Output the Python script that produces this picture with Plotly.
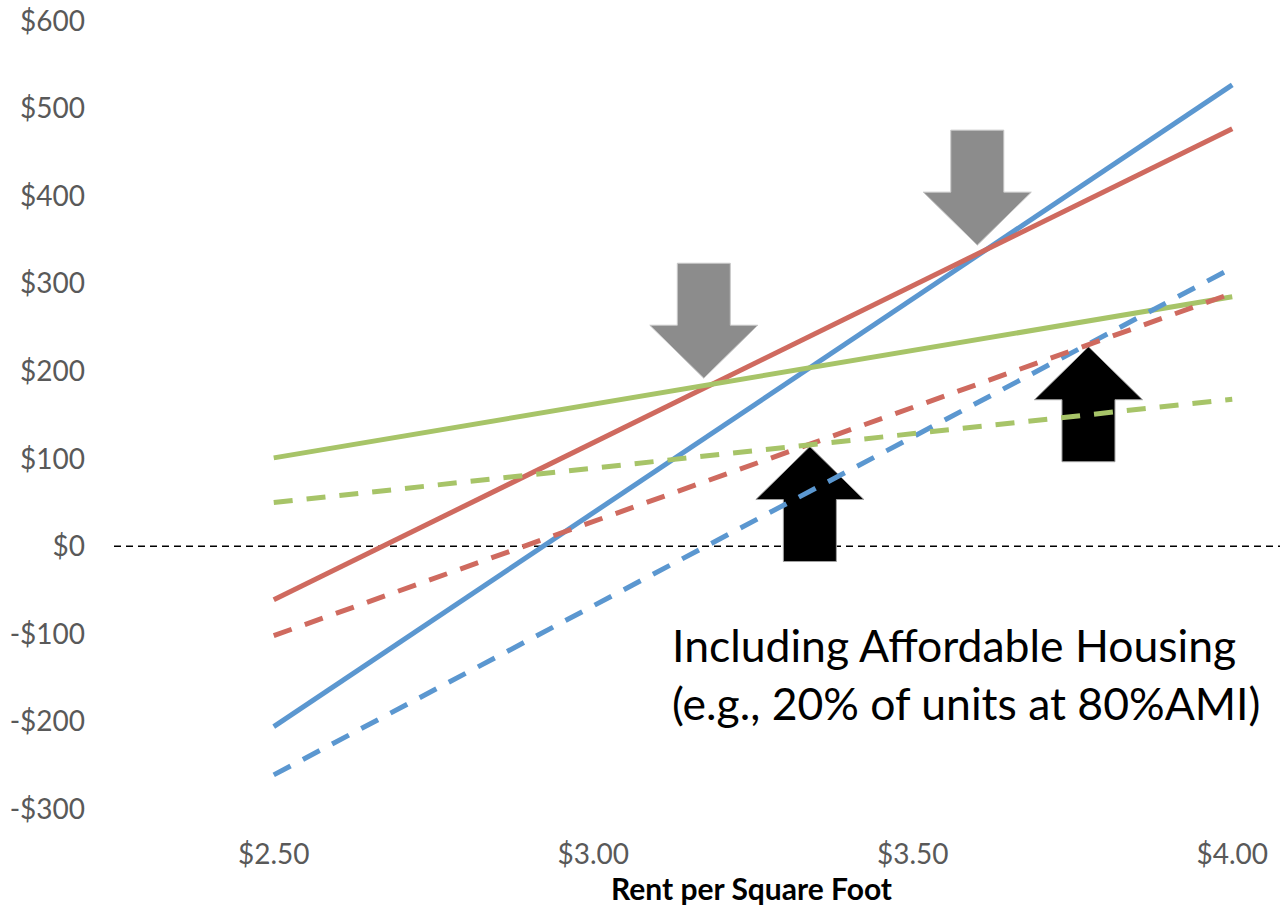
import plotly.graph_objects as go

# Rent per square foot (x) and residual land value per unit (y)
rent = [2.50, 3.00, 3.50, 4.00]

blue_solid = [-206, 38, 282, 527]
red_solid = [-61, 118, 297, 477]
green_solid = [101, 162, 223, 285]

blue_dashed = [-261, -68, 125, 318]
red_dashed = [-102, 28, 159, 289]
green_dashed = [50, 89, 128, 168]

y_ticks = [600, 500, 400, 300, 200, 100, 0, -100, -200, -300]
y_labels = ["$600", "$500", "$400", "$300", "$200", "$100", "$0", "-$100", "-$200", "-$300"]
x_ticks = [2.50, 3.00, 3.50, 4.00]
x_labels = ["$2.50", "$3.00", "$3.50", "$4.00"]

# Arrow markers: (rent, value) of the tip, and direction
down_arrows = [(3.173, 192), (3.601, 344)]
up_arrows = [(3.339, 114), (3.775, 228)]

BLUE = "#5B97D0"
RED = "#CF6A5F"
GREEN = "#A7C468"
FONT = "Lato"

fig = go.Figure()

series = [
    (blue_solid, BLUE, "solid"),
    (red_solid, RED, "solid"),
    (green_solid, GREEN, "solid"),
    (blue_dashed, BLUE, "19px,14px"),
    (red_dashed, RED, "19px,14px"),
    (green_dashed, GREEN, "19px,14px"),
]
for values, color, dash in series:
    fig.add_trace(go.Scatter(
        x=rent, y=values, mode="lines",
        line=dict(color=color, width=5, dash=dash),
        showlegend=False, hoverinfo="skip",
    ))

# dashed zero line across the plot area
fig.add_shape(type="line", xref="paper", x0=0, x1=1, yref="y", y0=0, y1=0,
              line=dict(color="black", width=1.5, dash="7px,5px"), layer="below")

HEAD_W, SHAFT_W, HEAD_L, TOTAL_L = 54, 26.5, 53, 115


def arrow_path(sign):
    s = sign
    pts = [(0, 0), (-HEAD_W, s * HEAD_L), (-SHAFT_W, s * HEAD_L), (-SHAFT_W, s * TOTAL_L),
           (SHAFT_W, s * TOTAL_L), (SHAFT_W, s * HEAD_L), (HEAD_W, s * HEAD_L)]
    return "M " + " L ".join(f"{x},{y}" for x, y in pts) + " Z"


for (ax, ay) in down_arrows:
    fig.add_shape(type="path", xref="x", yref="y", xsizemode="pixel", ysizemode="pixel",
                  xanchor=ax, yanchor=ay, path=arrow_path(1),
                  fillcolor="#8C8C8C", line=dict(color="#C8C8C8", width=1), layer="below")
for (ax, ay) in up_arrows:
    fig.add_shape(type="path", xref="x", yref="y", xsizemode="pixel", ysizemode="pixel",
                  xanchor=ax, yanchor=ay, path=arrow_path(-1),
                  fillcolor="#000000", line=dict(color="#A0A0A0", width=1), layer="below")

fig.add_annotation(
    text="Including Affordable Housing<br>(e.g., 20% of units at 80%AMI)",
    xref="paper", yref="paper", x=(670 - 114) / 1166, y=(808.5 - 616) / 787.5,
    xanchor="left", yanchor="top", align="left", showarrow=False,
    font=dict(family=FONT, size=44.5, color="black"),
)

fig.add_annotation(
    text="<b>Rent per Square Foot</b>",
    xref="paper", yref="paper", x=(751 - 114) / 1166, y=-(887 - 808.5) / 787.5,
    xanchor="center", yanchor="middle", showarrow=False,
    font=dict(family=FONT, size=30, color="black"),
)

fig.update_layout(
    width=1280, height=906, autosize=False,
    margin=dict(l=114, r=0, t=21, b=97, pad=0),
    paper_bgcolor="white", plot_bgcolor="white",
    font=dict(family=FONT, color="#595959"),
    xaxis=dict(range=[2.25, 2.25 + 1166 / 639], tickvals=x_ticks, ticktext=x_labels,
               showgrid=False, zeroline=False, showline=False, ticks="",
               tickfont=dict(size=28, color="#595959"), ticklabelstandoff=26),
    yaxis=dict(range=[-300, 600], tickvals=y_ticks, ticktext=y_labels,
               showgrid=False, zeroline=False, showline=False, ticks="",
               tickfont=dict(size=28, color="#595959"), ticklabelstandoff=28),
)

fig.write_html("out.html", post_script="document.body.style.margin='0';")
